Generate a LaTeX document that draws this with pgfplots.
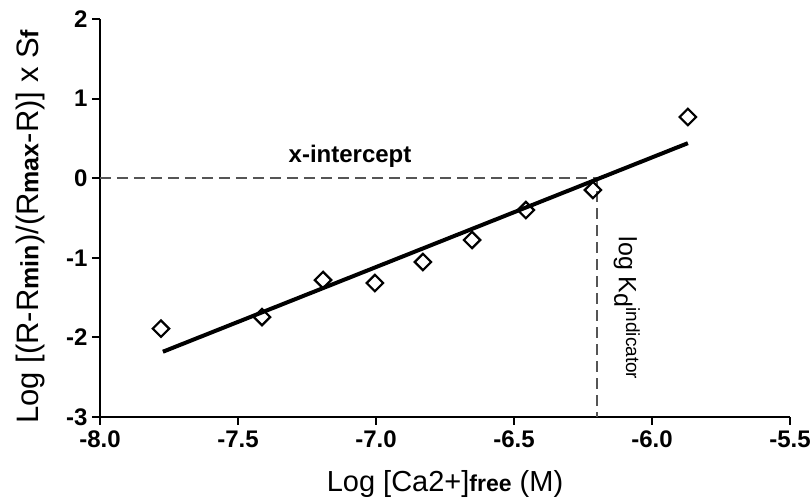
\documentclass[border=0pt]{standalone}
\usepackage{pgfplots}
\pgfplotsset{compat=1.18}
\usepackage{fontspec}
\setmainfont{Liberation Sans}
\usetikzlibrary{calc}
\definecolor{dashgray}{HTML}{555555}
\begin{document}
\begin{tikzpicture}
\begin{axis}[
  name=ax,
  scale only axis, width=690pt, height=398pt,
  xmin=-8, xmax=-5.5, ymin=-3, ymax=2,
  xtick={-8,-7.5,-7,-6.5,-6,-5.5},
  xticklabels={-8.0,-7.5,-7.0,-6.5,-6.0,-5.5},
  ytick={-3,-2,-1,0,1,2},
  yticklabels={-3,-2,-1,0,1,2},
  axis x line*=bottom, axis y line*=left,
  axis line style={line width=2.8pt, -},
  tick style={line width=2pt, black},
  major tick length=8pt,
  tick align=outside,
  ticklabel style={font=\fontsize{24}{24}\selectfont\bfseries},
  xticklabel style={yshift=-2pt},
  yticklabel style={xshift=-1pt},
  /pgf/number format/assume math mode=true,
  xlabel={Log [Ca2+]{\fontsize{23}{23}\selectfont\bfseries free} (M)},
  ylabel={Log [(R-R{\fontsize{25}{25}\selectfont\bfseries min})/(R{\fontsize{25}{25}\selectfont\bfseries max}-R)] x S{\fontsize{25}{25}\selectfont\bfseries f}},
  x label style={at={(axis description cs:0.5,-0.168)}, anchor=center, font=\fontsize{29}{29}\selectfont},
  y label style={at={(axis description cs:-0.101,0.478)}, anchor=center, font=\fontsize{31}{31}\selectfont},
  clip=false,
]
\addplot[dashgray, line width=1.5pt, dash pattern=on 11pt off 6pt] coordinates {(-8,0) (-6.2,0) (-6.2,-3)};
\addplot[black, line width=4pt] coordinates {(-7.772,-2.18) (-5.870,0.44)};
\addplot[only marks, mark=square, mark size=5.8pt, mark options={rotate=45, line width=2.2pt, fill=white, draw=black}] coordinates {
(-7.779,-1.89) (-7.413,-1.744) (-7.192,-1.279) (-7.004,-1.317) (-6.830,-1.053)
(-6.652,-0.776) (-6.457,-0.40) (-6.214,-0.148) (-5.870,0.769)};
\node[font=\fontsize{24}{24}\selectfont\bfseries] at (axis cs:-7.094,0.28) {x-intercept};
\node[rotate=-90, font=\fontsize{25}{25}\selectfont] at (axis cs:-6.091,-1.63) {log K\raisebox{-0.35ex}{d}\raisebox{0.55ex}{\fontsize{19}{19}\selectfont indicator}};
\end{axis}
\pgfresetboundingbox
\path[use as bounding box] ($(ax.south west)+(-100pt,-86pt)$) rectangle ($(ax.north east)+(22pt,19pt)$);
\end{tikzpicture}
\end{document}
